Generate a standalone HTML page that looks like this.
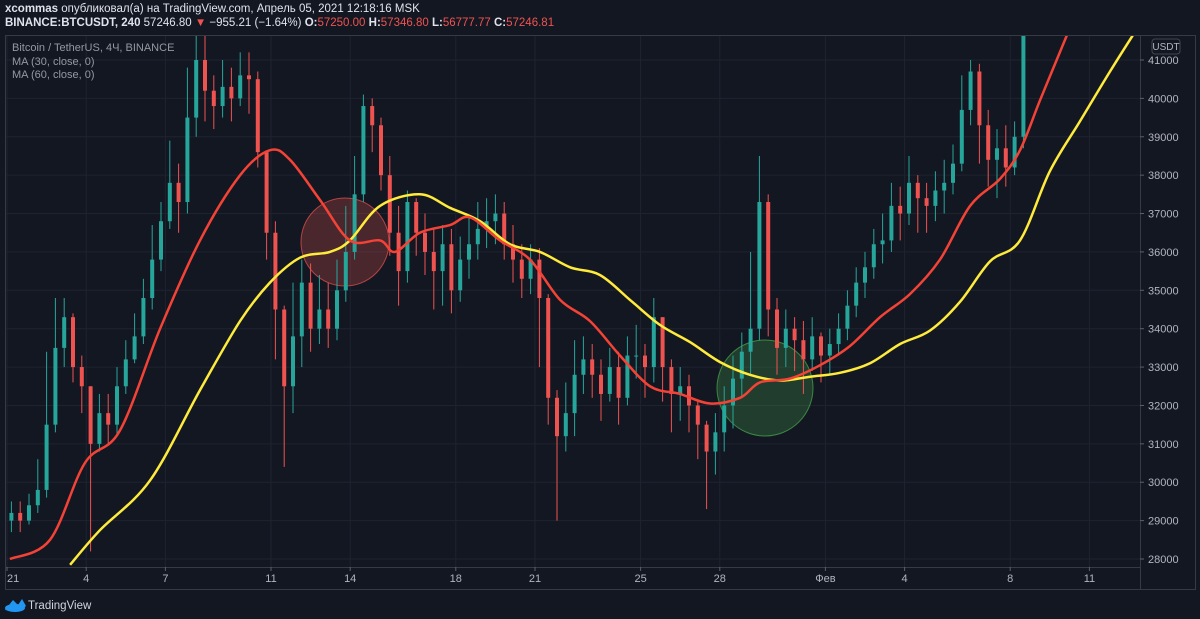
<!DOCTYPE html>
<html><head><meta charset="utf-8"><style>
body{margin:0;background:#131722;width:1200px;height:619px;overflow:hidden;font-family:"Liberation Sans","Noto Sans CJK SC",sans-serif;}
.hdr{position:absolute;left:5px;color:#e0e3eb;font-size:11.5px;white-space:nowrap}
.r{color:#ef5350}
</style></head><body>
<div class="hdr" style="top:3px"><b>xcommas</b> опубликовал(а) на TradingView.com, Апрель 05, 2021 12:18:16 MSK</div>
<div class="hdr" style="top:17px"><b>BINANCE:BTCUSDT, 240</b> 57246.80 <span class="r">▼</span> −955.21 (−1.64%) <b>O:</b><span class="r">57250.00</span> <b>H:</b><span class="r">57346.80</span> <b>L:</b><span class="r">56777.77</span> <b>C:</b><span class="r">57246.81</span></div>
<svg id="chart" width="1200" height="619" style="position:absolute;left:0;top:0"></svg>
<script>
const closes=[29200,29000,29400,29800,31500,33500,34300,33000,32500,31000,31800,31500,32500,33200,33800,34800,35800,36800,37800,37300,39500,41000,40200,39800,40300,40000,40600,40500,38600,36500,34500,32500,33800,35200,34000,34500,34000,35000,36000,37500,39800,39300,38000,36500,35500,37300,36500,36000,35500,36200,35000,35800,36200,36600,36800,37000,36200,35800,35300,35800,34800,32200,31200,31800,32800,33200,32800,32300,33000,32200,33300,33300,33000,34300,33000,32300,32500,32000,31500,30800,31300,32000,32700,33400,34000,37300,34500,33500,34000,33700,33200,33800,33300,33600,34000,34600,35200,35600,36200,36300,37200,37000,37800,37400,37200,37600,37800,38300,39700,40700,39300,38400,38700,38200,39000,44000];
const highs=[29500,29500,29700,30600,33400,34800,34800,34400,33300,32500,32300,32300,33000,33700,34400,35300,36700,37300,38900,38300,40800,41700,41700,40600,41000,40800,41200,41200,40700,38600,36800,34600,35200,35800,35700,35400,35200,35800,37200,38500,40100,40000,39500,38500,37200,37600,37400,37000,36600,36700,36600,36400,36900,37300,37400,37500,37300,36700,36200,36200,36100,34900,32400,32600,33700,33800,33600,33200,33500,33400,33800,34100,33600,34800,34300,33200,33000,32800,32100,31600,31800,32500,33300,33900,36000,38500,37500,34800,34500,34300,34200,34300,33900,34000,34400,35000,35600,36000,36600,37000,37800,37700,38500,38000,37800,38100,38400,38800,40600,41000,40900,39700,39200,39300,39400,45000];
const lows=[28700,28700,28900,29200,29600,31300,33000,32600,31800,28200,30800,31000,31200,32300,33100,33600,34500,35500,36600,36500,37000,39000,39400,39200,39500,39400,39800,39600,38200,35800,33200,30400,31800,33000,33400,33600,33500,33700,34700,35800,37300,38600,37600,35900,34600,35200,35900,35400,34500,34600,34400,34700,35300,35800,36100,36200,35800,35200,34800,34900,33000,31500,29000,30800,31200,32300,32200,31600,32100,31500,32000,32700,32200,32600,32100,31300,31600,31300,30600,29300,30200,30800,31400,32200,32800,33700,33800,32800,33000,32900,32300,32900,32600,32800,33300,33700,34300,34800,35300,35700,36000,36300,36700,36500,36500,36800,37000,37500,38100,39300,38300,37700,37400,37700,38000,38700];
const ma30Days=[1.11,2.63,3.95,5.28,6.8,8.31,9.83,10.96,11.72,12.86,13.99,15.13,15.7,16.64,17.78,18.54,19.67,20.81,21.95,23.08,24.22,25.36,26.49,27.63,28.77,29.52,30.66,31.8,32.93,34.07,35.2,36.34,37.48,38.61,39.37,40.13,41.15];
const ma30=[28000,28500,30500,31350,34000,36300,38000,38650,38400,37350,36300,36300,36000,36500,36700,36900,36300,35800,34750,34200,33300,32500,32300,32050,32200,32600,32700,33050,33550,34300,34900,35800,37200,37900,38650,39950,41650];
const ma60Days=[3.39,4.52,6.42,8.31,9.83,10.96,12.1,13.23,13.99,15.13,16.64,17.78,18.92,20.05,21.19,22.33,23.46,24.6,25.73,26.87,28.01,29.14,30.28,31.42,32.55,33.69,34.83,35.96,37.1,38.23,39.37,40.5,41.64,42.78,43.65];
const ma60=[27850,28750,30050,32400,34200,35200,35850,36000,36300,37200,37500,37150,36800,36200,36000,35600,35400,34750,34100,33650,33130,32800,32650,32750,32850,33100,33600,33950,34700,35750,36300,38100,39400,40700,41650];
const priceTicks=[28000,29000,30000,31000,32000,33000,34000,35000,36000,37000,38000,39000,40000,41000];
const timeDays=[1,4,7,11,14,18,21,25,28,32,35,39,42];
const timeLabels=['21','4','7','11','14','18','21','25','28','Фев','4','8','11'];

const NS='http://www.w3.org/2000/svg';
const svg=document.getElementById('chart');
const L=5,R=1140,T=35,B=567;
const yS=p=>60+(41000-p)*(559-60)/13000;
const xD=d=>7+(d-1)*26.4;
const xI=i=>xD(1+i/3+1/6);
function mk(tag,attrs,parent){const e=document.createElementNS(NS,tag);for(const k in attrs)e.setAttribute(k,attrs[k]);(parent||svg).appendChild(e);return e;}

const grid=mk('g',{});


priceTicks.forEach(p=>{mk('line',{x1:L,x2:R,y1:yS(p),y2:yS(p),stroke:'#1f2330','stroke-width':1},grid);});
timeDays.forEach(d=>{mk('line',{x1:xD(d),x2:xD(d),y1:T,y2:B,stroke:'#1f2330','stroke-width':1},grid);});

const frame=mk('rect',{x:L+0.5,y:T+0.5,width:1190,height:554,fill:'none',stroke:'#363a45'});


mk('line',{x1:R+0.5,x2:R+0.5,y1:T,y2:589,stroke:'#363a45'});
mk('line',{x1:L,x2:R,y1:B+0.5,y2:B+0.5,stroke:'#363a45'});

const cpp=mk('clipPath',{id:'pc'});
mk('rect',{x:L+1,y:T+1,width:R-L-1,height:B-T-1},cpp);
const plot=mk('g',{'clip-path':'url(#pc)'});



const c1=mk('circle',{cx:345,cy:242,r:44,fill:'rgba(239,83,80,0.25)',stroke:'rgba(239,83,80,0.7)','stroke-width':1},plot);


const c2=mk('circle',{cx:765,cy:388,r:48,fill:'rgba(76,175,80,0.25)',stroke:'rgba(76,175,80,0.7)','stroke-width':1},plot);



closes.forEach((c,i)=>{
  const o=i?closes[i-1]:c-200;
  const up=c>=o;const col=up?'#26a69a':'#ef5350';
  const x=xI(i);
  const g=mk('g',{},plot);
  
  
  mk('line',{x1:x,x2:x,y1:yS(highs[i]),y2:yS(lows[i]),stroke:col,'stroke-width':1},g);
  const y1=yS(Math.max(o,c)),y2=yS(Math.min(o,c));
  mk('rect',{x:x-2,y:y1,width:4,height:Math.max(1,y2-y1),fill:col},g);
});

function line(days,vals,col,name){
  const P=days.map((dd,i)=>[xD(dd),yS(vals[i])]);
  let d='M'+P[0][0].toFixed(1)+','+P[0][1].toFixed(1);
  for(let i=0;i<P.length-1;i++){
    const p0=P[Math.max(0,i-1)],p1=P[i],p2=P[i+1],p3=P[Math.min(P.length-1,i+2)];
    const a=[p1[0]+(p2[0]-p0[0])/6,p1[1]+(p2[1]-p0[1])/6],b=[p2[0]-(p3[0]-p1[0])/6,p2[1]-(p3[1]-p1[1])/6];
    d+='C'+a[0].toFixed(1)+','+a[1].toFixed(1)+' '+b[0].toFixed(1)+','+b[1].toFixed(1)+' '+p2[0].toFixed(1)+','+p2[1].toFixed(1);
  }
  const p=mk('path',{d,fill:'none',stroke:col,'stroke-width':2.5,'stroke-linejoin':'round'},plot);
  
  
}
line(ma60Days,ma60,'#ffeb3b','ma60-line');
line(ma30Days,ma30,'#f44336','ma30-line');

priceTicks.forEach(p=>{
  mk('line',{x1:R,x2:R+4,y1:yS(p),y2:yS(p),stroke:'#5d606b'});
  const t=mk('text',{x:R+8,y:yS(p)+4,fill:'#b2b5be','font-size':11,'font-family':'Liberation Sans, sans-serif'});
  t.textContent=p;
  
  
});
const ub=mk('rect',{x:1152,y:39,width:28,height:15,rx:3,fill:'#131722',stroke:'#434651'});


const ut=mk('text',{x:1166,y:50,fill:'#b2b5be','font-size':10,'text-anchor':'middle','font-family':'Liberation Sans, sans-serif'});
ut.textContent='USDT';



timeDays.forEach((d,i)=>{
  const x=xD(d);
  mk('line',{x1:x,x2:x,y1:B,y2:B+4,stroke:'#5d606b'});
  const t=mk('text',{x:Math.max(x,6),y:582,fill:'#b2b5be','font-size':11,'text-anchor':i===0?'start':'middle','font-family':'Liberation Sans, sans-serif'});
  t.textContent=timeLabels[i];
  
  
});

[['Bitcoin / TetherUS, 4Ч, BINANCE',51,'#9598a1','legend-title'],['MA (30, close, 0)',65,'#9598a1','legend-ma30'],['MA (60, close, 0)',78,'#9598a1','legend-ma60']].forEach(a=>{
  const t=mk('text',{x:12,y:a[1],fill:a[2],'font-size':11,'font-family':'Liberation Sans, sans-serif'});
  t.textContent=a[0];
  
  
});

const lg=mk('g',{});


mk('path',{d:'M5,610 L13,600 L18,605 L22,599 L26,606 L20,611 L16,606 L12,611 Z',fill:'#2196f3'},lg);
mk('ellipse',{cx:15,cy:608,rx:10,ry:4,fill:'#2196f3'},lg);
const lt=mk('text',{x:28,y:609,fill:'#d1d4dc','font-size':11.5,'font-family':'Liberation Sans, sans-serif'},lg);
lt.textContent='TradingView';
</script>
</body></html>
